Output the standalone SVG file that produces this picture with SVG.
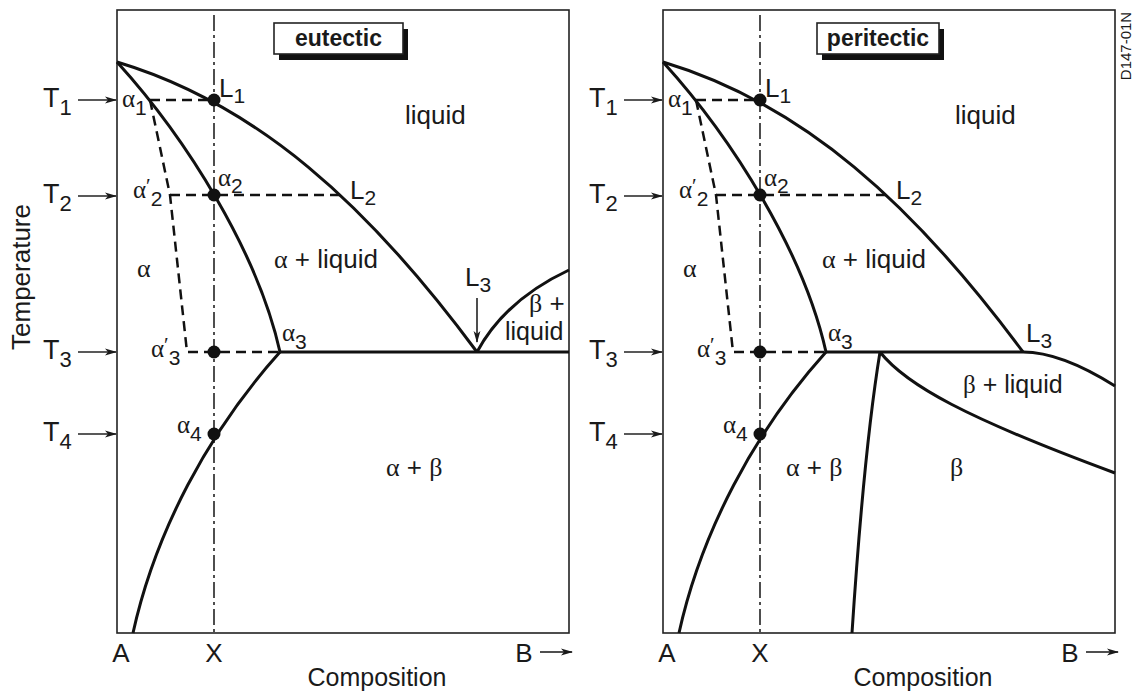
<svg xmlns="http://www.w3.org/2000/svg" width="1138" height="695" viewBox="0 0 1138 695">
<defs>
<marker id="arr" markerWidth="12" markerHeight="8" refX="11" refY="4" orient="auto" markerUnits="userSpaceOnUse"><path d="M0,0.6 L12,4 L0,7.4 L3,4 Z" fill="#1a1a1a"/></marker>
<style>
.box{fill:none;stroke:#222;stroke-width:1.6}
.curve{fill:none;stroke:#111;stroke-width:3}
.dash{fill:none;stroke:#111;stroke-width:2.5;stroke-dasharray:10 6}
.axis{fill:none;stroke:#222;stroke-width:1.6;stroke-dasharray:16 4 3 4}
.arrow{stroke:#222;stroke-width:1.6;fill:none;marker-end:url(#arr)}
.dot{fill:#111}
.tbox{fill:#fff;stroke:#222;stroke-width:1.6}
.shadow{fill:#111}
text{font-family:"Liberation Sans",Arial,Helvetica,sans-serif;fill:#1a1a1a;font-size:26px}
.g{font-family:"Liberation Serif","Times New Roman",serif}
.sub{font-size:21px}
.t{font-size:27px}
.ts{font-size:22px}
.al{font-size:25px}
.title{font-weight:bold;font-size:23px}
</style>
</defs>
<rect width="1138" height="695" fill="#fff"/>

<g id="eutectic">
  <rect class="box" x="117" y="10" width="452" height="623"/>
  <g id="eutectic-title">
    <rect class="shadow" x="279" y="29" width="129" height="31"/>
    <rect class="tbox" x="274" y="23" width="129" height="31"/>
    <text class="title" x="338.5" y="46" text-anchor="middle">eutectic</text>
  </g>
  <line class="axis" x1="214" y1="15" x2="214" y2="633"/>
  <g id="eutectic-curves">
    <path class="curve" d="M117,62 C257,104 367,203.5 477,352"/>
    <path class="curve" d="M117,62 C187,139 258,253 280,352"/>
    <path class="curve" d="M280,352 C208,432 155,533 133,633"/>
    <path class="curve" d="M280,352 H569"/>
    <path class="curve" d="M477,352 Q505,300 569,270"/>
  </g>
  <g id="eutectic-dashes">
    <path class="dash" d="M150,100 H214"/>
    <path class="dash" d="M170,195 H343"/>
    <path class="dash" d="M150,100 L170,195 L187,352 H280"/>
  </g>
  <g id="eutectic-dots">
    <circle class="dot" cx="214" cy="100" r="6.5"/>
    <circle class="dot" cx="214" cy="195" r="6.5"/>
    <circle class="dot" cx="214" cy="352" r="6.5"/>
    <circle class="dot" cx="214" cy="434" r="6.5"/>
  </g>
  <g id="eutectic-temps">
    <line class="arrow" x1="78" y1="100" x2="116" y2="100"/>
    <line class="arrow" x1="78" y1="196" x2="116" y2="196"/>
    <line class="arrow" x1="78" y1="352" x2="116" y2="352"/>
    <line class="arrow" x1="78" y1="434" x2="116" y2="434"/>
    <text class="t" x="43" y="107">T<tspan class="ts" dy="8">1</tspan></text>
    <text class="t" x="43" y="203">T<tspan class="ts" dy="8">2</tspan></text>
    <text class="t" x="43" y="359">T<tspan class="ts" dy="8">3</tspan></text>
    <text class="t" x="43" y="441">T<tspan class="ts" dy="8">4</tspan></text>
  </g>
  <g id="eutectic-point-labels">
    <text x="122" y="107"><tspan class="g al">α</tspan><tspan class="sub" dy="8">1</tspan></text>
    <text x="219" y="97">L<tspan class="sub" dy="6">1</tspan></text>
    <text x="218" y="186"><tspan class="g al">α</tspan><tspan class="sub" dy="7">2</tspan></text>
    <text x="350" y="199">L<tspan class="sub" dy="6">2</tspan></text>
    <text x="133" y="198"><tspan class="g al">α</tspan><tspan class="g sub" dy="-5">′</tspan><tspan class="sub" dy="13">2</tspan></text>
    <text x="282" y="341"><tspan class="g al">α</tspan><tspan class="sub" dy="8">3</tspan></text>
    <text x="151" y="357"><tspan class="g al">α</tspan><tspan class="g sub" dy="-5">′</tspan><tspan class="sub" dy="13">3</tspan></text>
    <text x="177" y="433"><tspan class="g al">α</tspan><tspan class="sub" dy="8">4</tspan></text>
    <text x="465" y="286">L<tspan class="sub" dy="6">3</tspan></text>
    <line class="arrow" x1="477" y1="298" x2="477" y2="342"/>
  </g>
  <g id="eutectic-regions">
    <text x="405" y="124">liquid</text>
    <text x="274" y="268"><tspan class="g">α</tspan> + liquid</text>
    <text class="g" x="137" y="277">α</text>
    <text x="529" y="312"><tspan class="g">β</tspan> +</text>
    <text x="505" y="340" style="font-size:25px">liquid</text>
    <text x="386" y="476"><tspan class="g">α</tspan> + <tspan class="g">β</tspan></text>
  </g>
  <g id="eutectic-axis">
    <text x="121" y="662" text-anchor="middle">A</text>
    <text x="214" y="662" text-anchor="middle">X</text>
    <text x="524" y="662" text-anchor="middle">B</text>
    <line class="arrow" x1="540" y1="652" x2="572" y2="652"/>
    <text x="377" y="686" text-anchor="middle" style="font-size:25px">Composition</text>
  </g>
</g>

<g id="peritectic" transform="translate(546,0)">
  <rect class="box" x="117" y="10" width="452" height="623"/>
  <g id="peritectic-title">
    <rect class="shadow" x="276" y="29" width="122" height="31"/>
    <rect class="tbox" x="271" y="23" width="122" height="31"/>
    <text class="title" x="332" y="46" text-anchor="middle">peritectic</text>
  </g>
  <line class="axis" x1="214" y1="15" x2="214" y2="633"/>
  <g id="peritectic-curves">
    <path class="curve" d="M117,62 C257,104 367,203.5 477,352"/>
    <path class="curve" d="M117,62 C187,139 258,253 280,352"/>
    <path class="curve" d="M280,352 C208,432 155,533 133,633"/>
    <path class="curve" d="M280,352 H477"/>
    <path class="curve" d="M477,352 Q515,352 569,386"/>
    <path class="curve" d="M334,352 C360,385 420,418 569,473"/>
    <path class="curve" d="M334,352 Q318,450 306,633"/>
  </g>
  <g id="peritectic-dashes">
    <path class="dash" d="M150,100 H214"/>
    <path class="dash" d="M170,195 H343"/>
    <path class="dash" d="M150,100 L170,195 L187,352 H280"/>
  </g>
  <g id="peritectic-dots">
    <circle class="dot" cx="214" cy="100" r="6.5"/>
    <circle class="dot" cx="214" cy="195" r="6.5"/>
    <circle class="dot" cx="214" cy="352" r="6.5"/>
    <circle class="dot" cx="214" cy="434" r="6.5"/>
  </g>
  <g id="peritectic-temps">
    <line class="arrow" x1="78" y1="100" x2="116" y2="100"/>
    <line class="arrow" x1="78" y1="196" x2="116" y2="196"/>
    <line class="arrow" x1="78" y1="352" x2="116" y2="352"/>
    <line class="arrow" x1="78" y1="434" x2="116" y2="434"/>
    <text class="t" x="43" y="107">T<tspan class="ts" dy="8">1</tspan></text>
    <text class="t" x="43" y="203">T<tspan class="ts" dy="8">2</tspan></text>
    <text class="t" x="43" y="359">T<tspan class="ts" dy="8">3</tspan></text>
    <text class="t" x="43" y="441">T<tspan class="ts" dy="8">4</tspan></text>
  </g>
  <g id="peritectic-point-labels">
    <text x="122" y="107"><tspan class="g al">α</tspan><tspan class="sub" dy="8">1</tspan></text>
    <text x="219" y="97">L<tspan class="sub" dy="6">1</tspan></text>
    <text x="218" y="186"><tspan class="g al">α</tspan><tspan class="sub" dy="7">2</tspan></text>
    <text x="350" y="199">L<tspan class="sub" dy="6">2</tspan></text>
    <text x="133" y="198"><tspan class="g al">α</tspan><tspan class="g sub" dy="-5">′</tspan><tspan class="sub" dy="13">2</tspan></text>
    <text x="282" y="341"><tspan class="g al">α</tspan><tspan class="sub" dy="8">3</tspan></text>
    <text x="151" y="357"><tspan class="g al">α</tspan><tspan class="g sub" dy="-5">′</tspan><tspan class="sub" dy="13">3</tspan></text>
    <text x="177" y="433"><tspan class="g al">α</tspan><tspan class="sub" dy="8">4</tspan></text>
    <text x="480" y="342">L<tspan class="sub" dy="6">3</tspan></text>
  </g>
  <g id="peritectic-regions">
    <text x="409" y="124">liquid</text>
    <text x="276" y="268"><tspan class="g">α</tspan> + liquid</text>
    <text class="g" x="137" y="277">α</text>
    <text x="417" y="393" style="font-size:25px"><tspan class="g">β</tspan> + liquid</text>
    <text x="240" y="476"><tspan class="g">α</tspan> + <tspan class="g">β</tspan></text>
    <text class="g" x="404" y="476">β</text>
  </g>
  <g id="peritectic-axis">
    <text x="121" y="662" text-anchor="middle">A</text>
    <text x="214" y="662" text-anchor="middle">X</text>
    <text x="524" y="662" text-anchor="middle">B</text>
    <line class="arrow" x1="540" y1="652" x2="572" y2="652"/>
    <text x="377" y="686" text-anchor="middle" style="font-size:25px">Composition</text>
  </g>
</g>

<text id="temperature-label" transform="translate(30,277) rotate(-90)" text-anchor="middle">Temperature</text>
<text id="drawing-id" transform="translate(1131,46) rotate(-90)" text-anchor="middle" style="font-size:15px">D147-01N</text>
</svg>
